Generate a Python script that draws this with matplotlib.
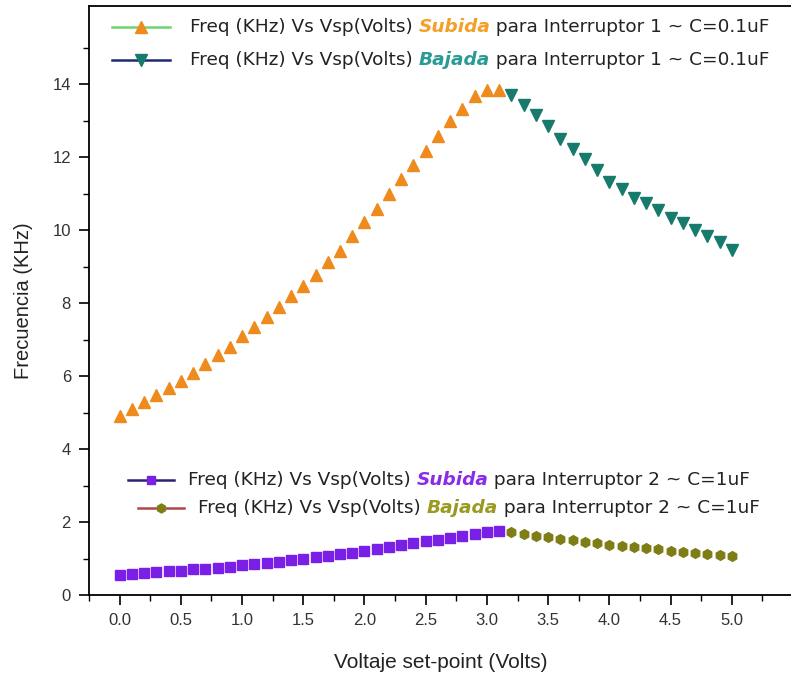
import numpy as np
import matplotlib
matplotlib.use('Agg')
from matplotlib import pyplot as plt
from matplotlib.lines import Line2D
from matplotlib.offsetbox import HPacker, TextArea, DrawingArea, AnchoredOffsetbox

plt.rcParams['font.family'] = ['Liberation Sans', 'DejaVu Sans']

# Interruptor 1 (C=0.1uF), subida 0.0-3.1 V, bajada 3.2-5.0 V
vsp_sub = [round(0.1 * i, 1) for i in range(32)]
vsp_baj = [round(3.2 + 0.1 * i, 1) for i in range(19)]

freq1_sub = [4.90, 5.09, 5.30, 5.48, 5.66, 5.87, 6.09, 6.32, 6.59, 6.80,
             7.10, 7.35, 7.62, 7.90, 8.19, 8.47, 8.77, 9.13, 9.43, 9.84,
             10.23, 10.59, 10.99, 11.39, 11.78, 12.17, 12.58, 12.99, 13.31, 13.67,
             13.84, 13.85]
freq1_baj = [13.70, 13.42, 13.15, 12.85, 12.49, 12.21, 11.94, 11.64, 11.32, 11.12,
             10.87, 10.73, 10.55, 10.32, 10.18, 10.00, 9.84, 9.68, 9.45]

# Interruptor 2 (C=1uF)
freq2_sub = [0.55, 0.57, 0.60, 0.62, 0.65, 0.67, 0.70, 0.72, 0.75, 0.78,
             0.81, 0.84, 0.87, 0.91, 0.95, 0.99, 1.03, 1.07, 1.11, 1.16,
             1.21, 1.26, 1.31, 1.36, 1.42, 1.47, 1.52, 1.57, 1.62, 1.68,
             1.72, 1.75]
freq2_baj = [1.72, 1.68, 1.63, 1.58, 1.54, 1.50, 1.46, 1.42, 1.38, 1.35,
             1.31, 1.28, 1.25, 1.21, 1.18, 1.15, 1.12, 1.09, 1.06]

c_or = '#ef8a1c'
c_teal = '#167a6c'
c_purp = '#7a1fe6'
c_oliv = '#7e7d16'

W, H = 791, 679
fig = plt.figure(figsize=(W / 100, H / 100), dpi=100)
ax = fig.add_axes([89 / W, 1 - 595 / H, 704 / W, 589 / H])

ax.plot(vsp_sub, freq1_sub, ls='none', marker='^', ms=8, color=c_or, mec=c_or)
ax.plot(vsp_baj, freq1_baj, ls='none', marker='v', ms=8, color=c_teal, mec=c_teal)
ax.plot(vsp_sub, freq2_sub, ls='none', marker='s', ms=6.5, color=c_purp, mec=c_purp)
ax.plot(vsp_baj, freq2_baj, ls='none', marker='h', ms=7, color=c_oliv, mec=c_oliv)

ax.set_xlim(-0.25, 5.5)
ax.set_ylim(0, 16.14)
ax.set_xticks(np.arange(0, 5.01, 0.5))
ax.set_xticks(np.arange(-0.25, 5.5, 0.25), minor=True)
ax.set_yticks(np.arange(0, 15, 2))
ax.set_yticks(np.arange(1, 16, 2), minor=True)
ax.xaxis.set_major_formatter(matplotlib.ticker.FormatStrFormatter('%.1f'))
ax.tick_params(which='major', direction='out', length=7, width=1.2, labelsize=12,
               labelcolor='#333333', pad=6)
ax.tick_params(which='minor', direction='out', length=4, width=1.0)
for s in ax.spines.values():
    s.set_linewidth(1.3)

ax.set_xlabel('Voltaje set-point (Volts)', fontsize=15, color='#222222', labelpad=18)
ax.set_ylabel('Frecuencia (KHz)', fontsize=14.5, color='#222222', labelpad=14)


def legend_row(x_px, y_px, hw, line_c, mk, mk_c, ms, word, word_c, tail, gap):
    da = DrawingArea(hw, 10, 0, 0)
    da.add_artist(Line2D([0, hw], [5, 5], color=line_c, lw=1.8))
    da.add_artist(Line2D([hw / 2], [5], ls='none', marker=mk, ms=ms, color=mk_c))
    base = dict(fontsize=13.3, color='#222222', family='DejaVu Sans')
    words = HPacker(children=[
        TextArea('Freq (KHz) Vs Vsp(Volts) ', textprops=base),
        TextArea(word, textprops=dict(base, color=word_c, weight='bold', style='italic')),
        TextArea(tail, textprops=base)], align='baseline', pad=0, sep=0)
    row = HPacker(children=[da, words], align='center', pad=0, sep=gap)
    box = AnchoredOffsetbox(loc='center left', child=row, pad=0, borderpad=0, frameon=False,
                            bbox_to_anchor=(x_px / W, 1 - y_px / H),
                            bbox_transform=fig.transFigure)
    ax.add_artist(box)


legend_row(112, 27, 42, '#6fd46f', '^', c_or, 8, 'Subida', '#f4a028',
           ' para Interruptor 1 ~ C=0.1uF', 14)
legend_row(112, 60, 42, '#1e2a70', 'v', c_teal, 8, 'Bajada', '#2a9a96',
           ' para Interruptor 1 ~ C=0.1uF', 14)
legend_row(128, 480, 33, '#2a2470', 's', c_purp, 6, 'Subida', '#8a2be8',
           ' para Interruptor 2 ~ C=1uF', 10)
legend_row(138, 508, 33, '#b04848', 'h', c_oliv, 6.5, 'Bajada', '#9a9a22',
           ' para Interruptor 2 ~ C=1uF', 10)

fig.savefig('out.png', dpi=100)
